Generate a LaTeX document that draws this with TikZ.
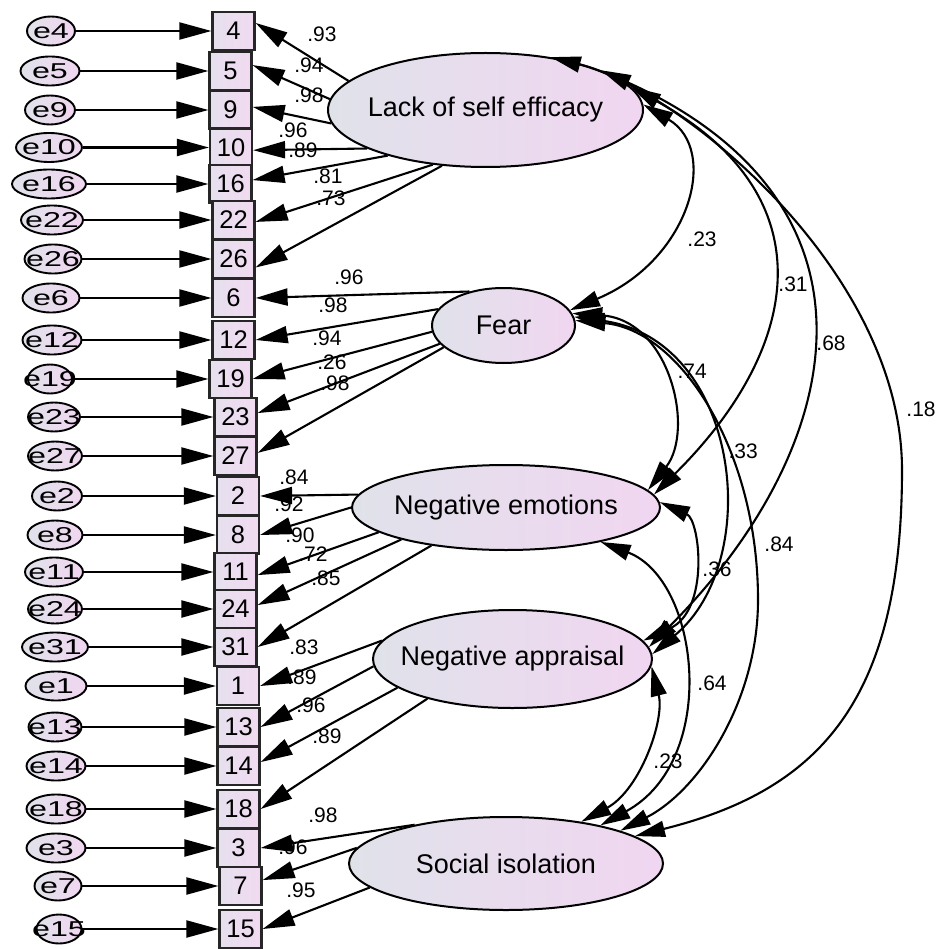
\documentclass[tikz,border=0pt]{standalone}
\usepackage{fontspec}
\setmainfont{Liberation Sans}
\usetikzlibrary{shapes.geometric,arrows.meta}
\definecolor{latL}{RGB}{224,226,234}
\definecolor{latR}{RGB}{241,214,241}
\definecolor{boxL}{RGB}{230,224,238}
\definecolor{boxR}{RGB}{241,218,241}
\tikzset{
 lat/.style={ellipse, draw=black, line width=2pt, left color=latL, right color=latR, inner sep=0pt, font=\fontsize{27}{27}\selectfont},
 obs/.style={rectangle, draw=black!85, line width=2.2pt, left color=boxL, right color=boxR, minimum width=42pt, minimum height=38pt, inner sep=0pt, font=\fontsize{25.5}{25.5}\selectfont},
 err/.style={ellipse, draw=black, line width=1.9pt, left color=latL, right color=latR, minimum height=29pt, inner sep=0pt, font=\fontsize{21.5}{21.5}\selectfont},
 lbl/.style={font=\fontsize{21}{21}\selectfont, inner sep=0pt},
 arr/.style={line width=2.1pt, -{Triangle[length=32pt,width=17pt]}},
 cov/.style={line width=2.1pt, {Triangle[length=30pt,width=16pt]}-{Triangle[length=30pt,width=16pt]}},
}
\newcommand{\etxt}[1]{\makebox[0pt]{\scalebox{1.5}[1]{#1}}}
\begin{document}
\begin{tikzpicture}[x=1pt,y=-1pt]
\useasboundingbox (0,0) rectangle (935,949);
% latent
\node[lat, minimum width=315pt, minimum height=114pt] (lse) at (485.5,110) {\makebox[0pt]{Lack of self efficacy}};
\node[lat, minimum width=143pt, minimum height=75pt] (fear) at (503.5,325.5) {\makebox[0pt]{Fear}};
\node[lat, minimum width=308pt, minimum height=85pt] (ne) at (506,507.5) {\makebox[0pt]{Negative emotions}};
\node[lat, minimum width=279pt, minimum height=98pt] (na) at (512.5,659) {\makebox[0pt]{Negative appraisal}};
\node[lat, minimum width=314pt, minimum height=93pt] (si) at (506,863.5) {\makebox[0pt]{Social isolation}};
% boxes
\foreach \n/\x/\y in {4/233.5/31, 5/230.5/71, 9/230.5/110, 10/231/147.5, 16/230.5/184, 22/233.5/220, 26/233.5/259, 6/233.5/298, 12/233.5/340, 19/230.5/379, 23/235.5/417, 27/235.5/456, 2/238/496, 8/238/535, 11/235.5/572, 24/235.5/609, 31/235.5/647, 1/238/686, 13/238.5/727, 14/238.5/766, 18/238.5/809, 3/238.5/848, 7/240.5/886, 15/240.5/929}
  \node[obs] (b\n) at (\x,\y) {\n};
% errors
\foreach \n/\x/\y/\w in {4/51/31/48, 5/50/71/59, 9/50/110/50, 10/49/147.5/66, 16/49/184/74, 22/52/220/62, 26/53/259/57, 6/51/298/57, 12/52/340/59, 19/50/379/44, 23/54/417/52, 27/55/456/54, 2/57/496/50, 8/55/535/55, 11/54/572/58, 24/55/609/54, 31/55/647/66, 1/56/686/61, 13/55/727/53, 14/56/766/59, 18/56/809/59, 3/56/848/59, 7/58/886/47, 15/59/929/45}
  {\node[err, minimum width=\w pt] (e\n) at (\x,\y) {\etxt{e\n}};
   \draw[arr] (e\n.east) -- (b\n.west);}
% loading labels
\foreach \i/\x/\y/\t in {1/322/34/.93, 2/309/65/.94, 3/309/95/.98, 4/293/130/.96, 5/303/150/.89, 6/328/176/.81, 7/331/198/.73, 8/349/277/.96, 9/333/305/.98, 10/327/338/.94, 11/332/362/.26, 12/335/383/.98, 13/294/477/.84, 14/289/504/.92, 15/300/535/.90, 16/313/554/.72, 17/326/578/.85, 18/304/647/.83, 19/302/677/.89, 20/311/705/.96, 21/327/736/.89, 22/323/815/.98, 23/293/847/.96, 24/301/890/.95}
  \node[lbl] (ll\i) at (\x,\y) {\t};
% covariance labels
\node[lbl] (c1) at (702,239) {.23};
\node[lbl] (c2) at (793,284) {.31};
\node[lbl] (c3) at (831,343) {.68};
\node[lbl] (c4) at (921,409) {.18};
\node[lbl, anchor=east] (c5) at (707,371) {.74};
\node[lbl, anchor=east] (c6) at (758,451) {.33};
\node[lbl] (c7) at (779,544) {.84};
\node[lbl] (c8) at (717,569) {.36};
\node[lbl] (c9) at (712,683) {.64};
\node[lbl] (c10) at (668,761) {.23};
% loadings
\draw[arr] (lse.168) -- (b4.20);
\draw[arr] (lse.176) -- (b5.15);
\draw[arr] (lse.185) -- (b9.8);
\draw[arr] (lse.198) -- (b10.-7);
\draw[arr] (lse.205) -- (b16.10);
\draw[arr] (lse.226) -- (b22.-5);
\draw[arr] (lse.232) -- (b26.-21);
\draw[arr] (fear.135) -- (b6.east);
\draw[arr] (fear.166) -- (b12.east);
\draw[arr] (fear.185) -- (b19.east);
\draw[arr] (fear.196) -- (b23.10);
\draw[arr] (fear.200) -- (b27.8);
\draw[arr] (ne.175) -- (b2.east);
\draw[arr] (ne.180) -- (b8.east);
\draw[arr] (ne.191) -- (b11.-8);
\draw[arr] (ne.197) -- (b24.10);
\draw[arr] (ne.207) -- (b31.east);
\draw[arr] (na.172) -- (b1.east);
\draw[arr] (na.183) -- (b13.east);
\draw[arr] (na.194) -- (b14.10);
\draw[arr] (na.205) -- (b18.east);
\draw[arr] (si.157) -- (b3.east);
\draw[arr] (si.174) -- (b7.15);
\draw[arr] (si.190) -- (b15.east);
% covariances
\draw[cov] (lse.2) .. controls (720,150) and (690,260) .. (fear.13);
\draw[cov] (lse.9) .. controls (830,197) and (800,350) .. (ne.5);
\draw[cov] (lse.19) .. controls (900,206) and (845,450) .. (na.5);
\draw[cov] (lse.39) .. controls (680,90) and (902,270) .. (902,470) .. controls (902,700) and (820,790) .. (si.12);
\draw[cov] (fear.10) .. controls (670,320) and (695,430) .. (ne.7);
\draw[cov] (fear.7) .. controls (740,340) and (765,560) .. (na.2);
\draw[cov] (fear.4) .. controls (680,330) and (758,450) .. (758,600) .. controls (758,700) and (700,790) .. (si.16);
\draw[cov] (ne.2) .. controls (700,520) and (710,610) .. (na.8);
\draw[cov] (ne.-20) .. controls (700,580) and (720,760) .. (si.22);
\draw[cov] (na.-3) .. controls (665,720) and (640,790) .. (si.29.5);
\end{tikzpicture}
\end{document}
